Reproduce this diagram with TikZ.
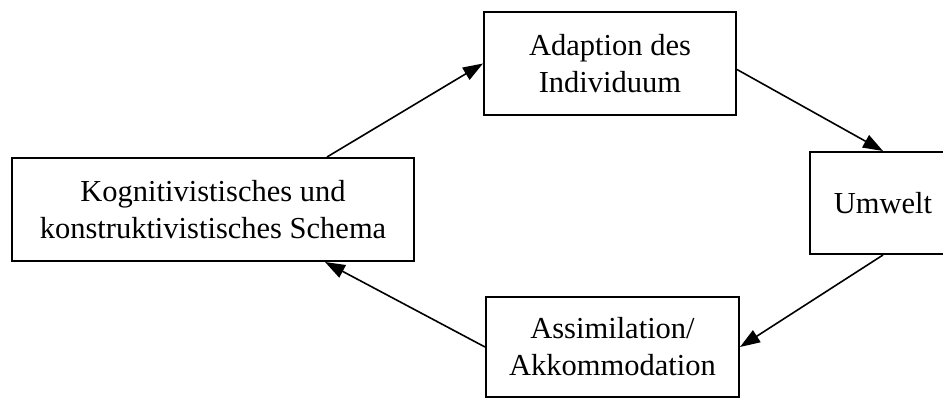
\documentclass[tikz,border=0pt]{standalone}
\usepackage{fontspec}
\setmainfont{Liberation Serif}
\usepackage{tikz}
\usetikzlibrary{arrows.meta}

\tikzset{
  kasten/.style={draw, line width=2pt, align=center, inner sep=0pt,
    font=\fontsize{30.5}{37}\selectfont},
  pfeil/.style={line width=1.6pt, -{Triangle[length=20pt,width=14pt]}}
}

\begin{document}
\begin{tikzpicture}[x=1pt, y=-1pt]
    \useasboundingbox (0,0) rectangle (943,398);
    % Kaesten
    \node[kasten, minimum width=402pt, minimum height=103pt] (schema) at (213,209.5)
        {Kognitivistisches und\\konstruktivistisches Schema};
    \node[kasten, minimum width=252pt, minimum height=103pt] (adaption) at (610,63.5)
        {Adaption des\\Individuum};
    \node[kasten, minimum width=146pt, minimum height=102pt] (umwelt) at (883,203)
        {Umwelt};
    \node[kasten, minimum width=253pt, minimum height=100pt] (assim) at (612.5,347)
        {Assimilation/\\Akkommodation};
    % Kreislauf
    \draw[pfeil] ([xshift=114pt]schema.north) -- (adaption.west);
    \draw[pfeil] ([yshift=-6pt]adaption.east) -- (umwelt.north);
    \draw[pfeil] (umwelt.south) -- (assim.east);
    \draw[pfeil] (assim.west) -- ([xshift=112pt]schema.south);
\end{tikzpicture}
\end{document}
